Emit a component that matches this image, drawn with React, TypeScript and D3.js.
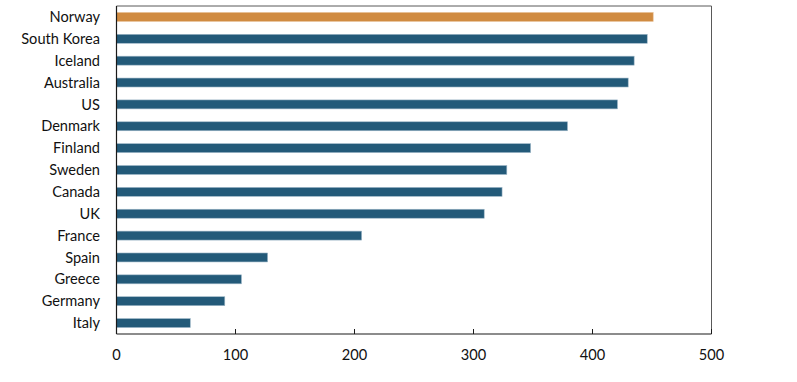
import React from "react";
import * as d3 from "d3";

const countries = ["Norway","South Korea","Iceland","Australia","US","Denmark","Finland","Sweden","Canada","UK","France","Spain","Greece","Germany","Italy"];
const values = [451,446,435,430,421,379,348,328,324,309,206,127,105,91,62];
const highlight = ["Norway"];
const xTicks = [0,100,200,300,400,500];

const W = 797, H = 382;
const M = { left: 116.5, right: 711.5, top: 6, bottom: 334 };
const FONT = "Lato, 'Open Sans', sans-serif";

export default function App() {
  const x = d3.scaleLinear().domain([0, 500]).range([M.left, M.right]);
  const y = d3.scaleBand().domain(countries).range([M.top, M.bottom]).paddingInner(0.59).paddingOuter(0.295);
  return (
    <svg width={W} height={H} style={{ position: "absolute", left: 0, top: 0 }}>
      <rect x={0} y={0} width={W} height={H} fill="#fff" />
      {countries.map((c, i) => (
        <rect key={c} x={x(0)} y={y(c)!} width={x(values[i]) - x(0)} height={y.bandwidth()}
          fill={highlight.includes(c) ? "#d08b41" : "#235a79"}
          stroke={highlight.includes(c) ? "#e8c197" : "#9fb8c8"} strokeWidth={0.6} />
      ))}
      <line x1={M.left} x2={M.right} y1={M.top} y2={M.top} stroke="#595959" strokeWidth={1} />
      <line x1={M.right} x2={M.right} y1={M.top} y2={M.bottom} stroke="#595959" strokeWidth={1} />
      <line x1={M.left} x2={M.left} y1={M.top} y2={M.bottom} stroke="#1a1a1a" strokeWidth={1.2} />
      <line x1={M.left} x2={M.right} y1={M.bottom} y2={M.bottom} stroke="#1a1a1a" strokeWidth={1.2} />
      {xTicks.map(t => (
        <g key={t}>
          <line x1={x(t)} x2={x(t)} y1={M.bottom} y2={M.bottom - 5} stroke="#1a1a1a" strokeWidth={1} />
          <text x={x(t)} y={360} textAnchor="middle" fontFamily={FONT} fontSize={14.6} fill="#111">{t}</text>
        </g>
      ))}
      {countries.map(c => (
        <text key={c} x={100} y={y(c)! + y.bandwidth() / 2} dy="0.35em" textAnchor="end"
          fontFamily={FONT} fontSize={14.6} fill="#111">{c}</text>
      ))}
    </svg>
  );
}
